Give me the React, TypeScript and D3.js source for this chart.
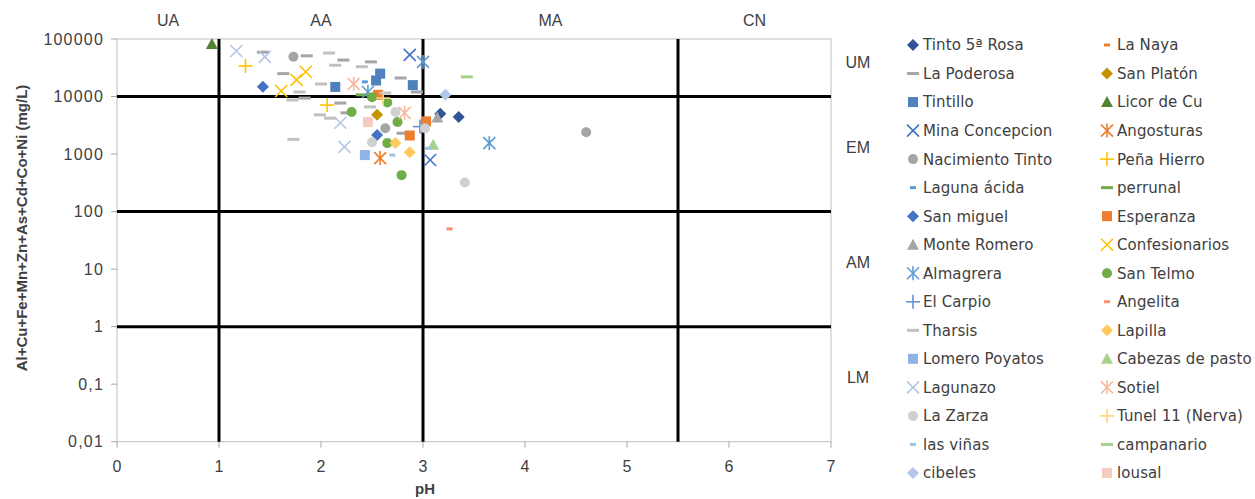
import * as d3 from 'd3';

// pH / metal sum (mg/L), one array per site
const tinto5Rosa = [[3.17, 5000], [3.35, 4400]];
const laNaya = [[3.0, 3500]];
const laPoderosa = [[1.43, 59000], [1.86, 51000], [2.22, 43000], [2.49, 40000], [1.63, 25000], [2.78, 21000], [2.94, 12000], [1.84, 9400], [2.19, 7700], [2.25, 5200], [2.8, 2300]];
const sanPlaton = [[2.55, 4800]];
const tintillo = [[2.14, 14700], [2.54, 19000], [2.58, 25000], [2.9, 15800]];
const licorDeCu = [[0.93, 82000]];
const minaConcepcion = [[2.87, 53000], [3.07, 790]];
const angosturas = [[2.58, 850]];
const nacimientoTinto = [[1.73, 49000], [4.6, 2400], [2.63, 2800]];
const penaHierro = [[1.26, 34000], [2.06, 7100]];
const lagunaAcida = [[2.43, 18000]];
const perrunal = [[2.4, 10700]];
const sanMiguel = [[1.43, 14800], [2.55, 2150]];
const esperanza = [[2.87, 2100], [3.03, 3700], [2.56, 10700]];
const monteRomero = [[3.14, 4300]];
const confesionarios = [[1.61, 12500], [1.76, 19500], [1.85, 27000]];
const almagrera = [[3.0, 40000], [3.65, 1550], [2.46, 12000]];
const sanTelmo = [[2.3, 5400], [2.79, 430], [2.65, 1550], [2.5, 9700], [2.65, 7900], [2.75, 3600]];
const elCarpio = [[2.97, 3000]];
const angelita = [[3.26, 50]];
const tharsis = [[2.08, 57000], [2.14, 35000], [2.4, 33000], [2.0, 16500], [1.72, 8700], [1.79, 12000], [1.99, 4800], [2.48, 6600], [1.73, 1800], [2.63, 11500], [2.09, 4200]];
const lapilla = [[2.73, 1550], [2.87, 1070]];
const lomeroPoyatos = [[2.43, 960]];
const cabezasDePasto = [[3.1, 1450]];
const lagunazo = [[1.17, 62000], [1.45, 49000], [2.19, 3500], [2.23, 1330]];
const sotiel = [[2.32, 16600], [2.82, 5200]];
const laZarza = [[3.41, 320], [2.5, 1600], [2.73, 5400], [3.02, 2800]];
const tunel11 = [[2.61, 9400]];
const lasVinas = [[2.7, 960], [3.05, 1260]];
const campanario = [[3.43, 22000]];
const cibeles = [[3.22, 10700]];
const lousal = [[2.46, 3600]];

const series = [
  { name: 'Tinto 5ª Rosa', shape: 'diamond', color: '#2F5597', data: tinto5Rosa },
  { name: 'La Naya', shape: 'short', color: '#ED7D31', data: laNaya },
  { name: 'La Poderosa', shape: 'dash', color: '#A5A5A5', data: laPoderosa },
  { name: 'San Platón', shape: 'diamond', color: '#C59200', data: sanPlaton },
  { name: 'Tintillo', shape: 'square', color: '#4F81BD', data: tintillo },
  { name: 'Licor de Cu', shape: 'triangle', color: '#548235', data: licorDeCu },
  { name: 'Mina Concepcion', shape: 'x', color: '#4472C4', data: minaConcepcion },
  { name: 'Angosturas', shape: 'asterisk', color: '#ED7D31', data: angosturas },
  { name: 'Nacimiento Tinto', shape: 'circle', color: '#A5A5A5', data: nacimientoTinto },
  { name: 'Peña Hierro', shape: 'plus', color: '#FFC000', data: penaHierro },
  { name: 'Laguna  ácida', shape: 'short', color: '#5B9BD5', data: lagunaAcida },
  { name: 'perrunal', shape: 'dash', color: '#70AD47', data: perrunal },
  { name: 'San miguel', shape: 'diamond', color: '#4472C4', data: sanMiguel },
  { name: 'Esperanza', shape: 'square', color: '#ED7D31', data: esperanza },
  { name: 'Monte Romero', shape: 'triangle', color: '#A5A5A5', data: monteRomero },
  { name: 'Confesionarios', shape: 'x', color: '#FFC000', data: confesionarios },
  { name: 'Almagrera', shape: 'asterisk', color: '#5B9BD5', data: almagrera },
  { name: 'San Telmo', shape: 'circle', color: '#70AD47', data: sanTelmo },
  { name: 'El Carpio', shape: 'plus', color: '#6A8FD6', data: elCarpio },
  { name: 'Angelita', shape: 'short', color: '#F4936A', data: angelita },
  { name: 'Tharsis', shape: 'dash', color: '#C0C0C0', data: tharsis },
  { name: 'Lapilla', shape: 'diamond', color: '#FFC95C', data: lapilla },
  { name: 'Lomero Poyatos', shape: 'square', color: '#8FB4E3', data: lomeroPoyatos },
  { name: 'Cabezas de pasto', shape: 'triangle', color: '#A9D18E', data: cabezasDePasto },
  { name: 'Lagunazo', shape: 'x', color: '#B4C7E7', data: lagunazo },
  { name: 'Sotiel', shape: 'asterisk', color: '#F8B9A0', data: sotiel },
  { name: 'La Zarza', shape: 'circle', color: '#D0D0D0', data: laZarza },
  { name: 'Tunel 11 (Nerva)', shape: 'plus', color: '#FFD27F', data: tunel11 },
  { name: 'las viñas', shape: 'short', color: '#9DC3E6', data: lasVinas },
  { name: 'campanario', shape: 'dash', color: '#A9D18E', data: campanario },
  { name: 'cibeles', shape: 'diamond', color: '#B4C7E7', data: cibeles },
  { name: 'lousal', shape: 'square', color: '#F8CBC0', data: lousal },
];

const xTicks = [0, 1, 2, 3, 4, 5, 6, 7];
const yTicks = [0.01, 0.1, 1, 10, 100, 1000, 10000, 100000];
const yTickLabels = ['0,01', '0,1', '1', '10', '100', '1000', '10000', '100000'];
const phLimits = [1, 3, 5.5];
const metalLimits = [1, 100, 10000];
const phZones = [{ label: 'UA', x: 0.5 }, { label: 'AA', x: 2 }, { label: 'MA', x: 4.25 }, { label: 'CN', x: 6.25 }];
const metalZones = [{ label: 'UM', y: 40000 }, { label: 'EM', y: 1300 }, { label: 'AM', y: 13 }, { label: 'LM', y: 0.13 }];

const x = d3.scaleLinear().domain([0, 7]).range([117, 831]);
const y = d3.scaleLog().domain([0.01, 100000]).range([441.7, 39]);

function Marker({ shape, color, cx, cy }: { shape: string; color: string; cx: number; cy: number }) {
  switch (shape) {
    case 'diamond':
      return <path d={`M${cx},${cy - 6}L${cx + 6},${cy}L${cx},${cy + 6}L${cx - 6},${cy}Z`} fill={color} />;
    case 'square':
      return <rect x={cx - 5} y={cy - 5} width={10} height={10} fill={color} />;
    case 'triangle':
      return <path d={`M${cx},${cy - 6}L${cx + 6},${cy + 5}L${cx - 6},${cy + 5}Z`} fill={color} />;
    case 'circle':
      return <circle cx={cx} cy={cy} r={5} fill={color} />;
    case 'dash':
      return <rect x={cx - 6} y={cy - 1.5} width={12} height={3} fill={color} />;
    case 'short':
      return <rect x={cx - 3} y={cy - 1.5} width={6} height={3} fill={color} />;
    case 'x':
      return (
        <g stroke={color} strokeWidth={1.6}>
          <line x1={cx - 6} y1={cy - 6} x2={cx + 6} y2={cy + 6} />
          <line x1={cx - 6} y1={cy + 6} x2={cx + 6} y2={cy - 6} />
        </g>
      );
    case 'asterisk':
      return (
        <g stroke={color} strokeWidth={1.6}>
          <line x1={cx - 6} y1={cy - 6} x2={cx + 6} y2={cy + 6} />
          <line x1={cx - 6} y1={cy + 6} x2={cx + 6} y2={cy - 6} />
          <line x1={cx} y1={cy - 7} x2={cx} y2={cy + 7} />
        </g>
      );
    default:
      return (
        <g stroke={color} strokeWidth={1.6}>
          <line x1={cx - 7} y1={cy} x2={cx + 7} y2={cy} />
          <line x1={cx} y1={cy - 7} x2={cx} y2={cy + 7} />
        </g>
      );
  }
}

export default function App() {
  const [x0, x1] = x.range();
  const [yb, yt] = y.range();
  const font = 'Liberation Sans, Arial, sans-serif';
  return (
    <svg width={1255} height={499} style={{ position: 'absolute', left: 0, top: 0, background: '#fff' }} fontFamily={font}>
      {/* plot border + axes */}
      <rect x={x0} y={yt} width={x1 - x0} height={yb - yt} fill="none" stroke="#BFBFBF" strokeWidth={1} />
      {yTicks.map((t, i) => (
        <g key={t}>
          <line x1={x0 - 6} x2={x0} y1={y(t)} y2={y(t)} stroke="#A6A6A6" />
          <text x={x0 - 13} y={y(t)} dy="0.36em" textAnchor="end" fontSize={16} letterSpacing={1.2} fill="#404040">{yTickLabels[i]}</text>
        </g>
      ))}
      {xTicks.map((t) => (
        <g key={t}>
          <line x1={x(t)} x2={x(t)} y1={yb} y2={yb + 6} stroke="#A6A6A6" />
          <text x={x(t)} y={yb + 30} textAnchor="middle" fontSize={16} fill="#404040">{t}</text>
        </g>
      ))}
      {/* classification limits */}
      {metalLimits.map((v) => (
        <line key={v} x1={x0} x2={x1} y1={y(v)} y2={y(v)} stroke="#000" strokeWidth={3} />
      ))}
      {phLimits.map((v) => (
        <line key={v} x1={x(v)} x2={x(v)} y1={yt} y2={yb} stroke="#000" strokeWidth={3} />
      ))}
      {phZones.map((z) => (
        <text key={z.label} x={x(z.x)} y={26} textAnchor="middle" fontSize={16} fill="#404040">{z.label}</text>
      ))}
      {metalZones.map((z) => (
        <text key={z.label} x={858} y={y(z.y)} dy="0.36em" textAnchor="middle" fontSize={16} fill="#404040">{z.label}</text>
      ))}
      {/* points */}
      {series.map((s) => (
        <g key={s.name}>
          {s.data.map((d, i) => (
            <Marker key={i} shape={s.shape} color={s.color} cx={x(d[0])} cy={y(d[1])} />
          ))}
        </g>
      ))}
      {/* axis titles */}
      <text x={425} y={494} textAnchor="middle" fontSize={15} fontWeight="bold" fill="#404040">pH</text>
      <text transform="translate(27,228) rotate(-90)" textAnchor="middle" fontSize={15} fontWeight="bold" fill="#404040">
        Al+Cu+Fe+Mn+Zn+As+Cd+Co+Ni (mg/L)
      </text>
      {/* legend */}
      {series.map((s, i) => {
        const col = i % 2;
        const row = Math.floor(i / 2);
        const lx = col === 0 ? 913 : 1107;
        const ly = 45 + row * 28.53;
        return (
          <g key={s.name}>
            <Marker shape={s.shape} color={s.color} cx={lx} cy={ly} />
            <text x={lx + 10} y={ly} dy="0.36em" fontSize={15} letterSpacing={0.1} fill="#404040" fontFamily="DejaVu Sans, sans-serif">{s.name}</text>
          </g>
        );
      })}
    </svg>
  );
}
